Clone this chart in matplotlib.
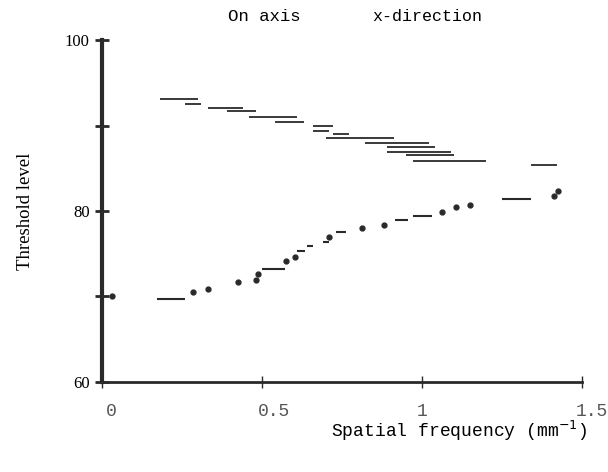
import matplotlib
matplotlib.use("Agg")
import matplotlib.pyplot as plt
import matplotlib.transforms as mtransforms

# upper series: horizontal bars (x start, x end, threshold)
upper_x0 = [0.18, 0.26, 0.33, 0.39, 0.46, 0.54, 0.66, 0.66, 0.72, 0.70, 0.82, 0.89, 0.89, 0.95, 0.97, 1.34]
upper_x1 = [0.30, 0.31, 0.44, 0.48, 0.61, 0.63, 0.72, 0.71, 0.77, 0.91, 1.02, 1.04, 1.09, 1.10, 1.20, 1.42]
upper_y = [93.1, 92.5, 92.1, 91.7, 91.0, 90.4, 90.0, 89.4, 89.0, 88.5, 88.0, 87.5, 86.9, 86.5, 85.85, 85.4]

# lower series: short bars
lower_bar_x0 = [0.17, 0.50, 0.61, 0.64, 0.69, 0.73, 0.915, 0.97, 1.25]
lower_bar_x1 = [0.26, 0.57, 0.635, 0.66, 0.71, 0.76, 0.955, 1.03, 1.34]
lower_bar_y = [69.7, 73.2, 75.3, 75.9, 76.4, 77.5, 78.9, 79.45, 81.4]

# lower series: dots
dot_x = [0.03, 0.285, 0.33, 0.425, 0.48, 0.487, 0.575, 0.603, 0.71, 0.81, 0.88, 1.06, 1.105, 1.15, 1.41, 1.425]
dot_y = [70.0, 70.5, 70.9, 71.7, 71.9, 72.6, 74.1, 74.6, 76.9, 78.0, 78.4, 79.9, 80.5, 80.7, 81.75, 82.3]

x_ticks = [0, 0.5, 1, 1.5]
x_ticklabels = ["0", "0.5", "1", "1.5"]

mono = "Liberation Mono"
serif = "Liberation Serif"

fig = plt.figure(figsize=(6.08, 4.72), dpi=100)
ax = fig.add_axes([0.168, 0.191, 0.79, 0.724])

ink = "#2a2a2a"
ax.hlines(upper_y, upper_x0, upper_x1, colors=ink, linewidth=1.3)
ax.hlines(lower_bar_y, lower_bar_x0, lower_bar_x1, colors=ink, linewidth=1.5)
ax.plot(dot_x, dot_y, "o", color=ink, markersize=3.5, linestyle="none")

ax.set_xlim(0, 1.5)
ax.set_ylim(60, 100)

for s in ["top", "right"]:
    ax.spines[s].set_visible(False)
ax.spines["left"].set_linewidth(3)
ax.spines["bottom"].set_linewidth(2)
ax.spines["left"].set_color(ink)
ax.spines["bottom"].set_color(ink)

ax.set_yticks([60, 70, 80, 90, 100])
ax.set_yticklabels(["60", "", "80", "", "100"], fontfamily=serif, fontsize=12)
ax.set_xticks(x_ticks)
ax.set_xticklabels(x_ticklabels, fontfamily=mono, fontsize=13, color="#555555")
ax.tick_params(axis="y", direction="inout", length=10, width=2, pad=4, color=ink)
ax.tick_params(axis="x", direction="inout", length=8, width=1, pad=11, color=ink)

# the typed labels sit a little right of their ticks in the original
for lab, dx in zip(ax.get_xticklabels(), [9, 12, 0, 9]):
    lab.set_transform(lab.get_transform() + mtransforms.ScaledTranslation(dx / 100, 0, fig.dpi_scale_trans))

ax.set_ylabel("Threshold level", fontfamily=serif, fontsize=13.5, labelpad=22)
fig.text(0.755, 0.088, "Spatial frequency (mm$^{-1}$)", fontfamily=mono, fontsize=13,
         ha="center", va="center")
fig.text(0.434, 0.965, "On axis", fontfamily=mono, fontsize=12.5, ha="center", va="center")
fig.text(0.703, 0.965, "x-direction", fontfamily=mono, fontsize=12, ha="center", va="center")

fig.savefig("out.png", dpi=100)
